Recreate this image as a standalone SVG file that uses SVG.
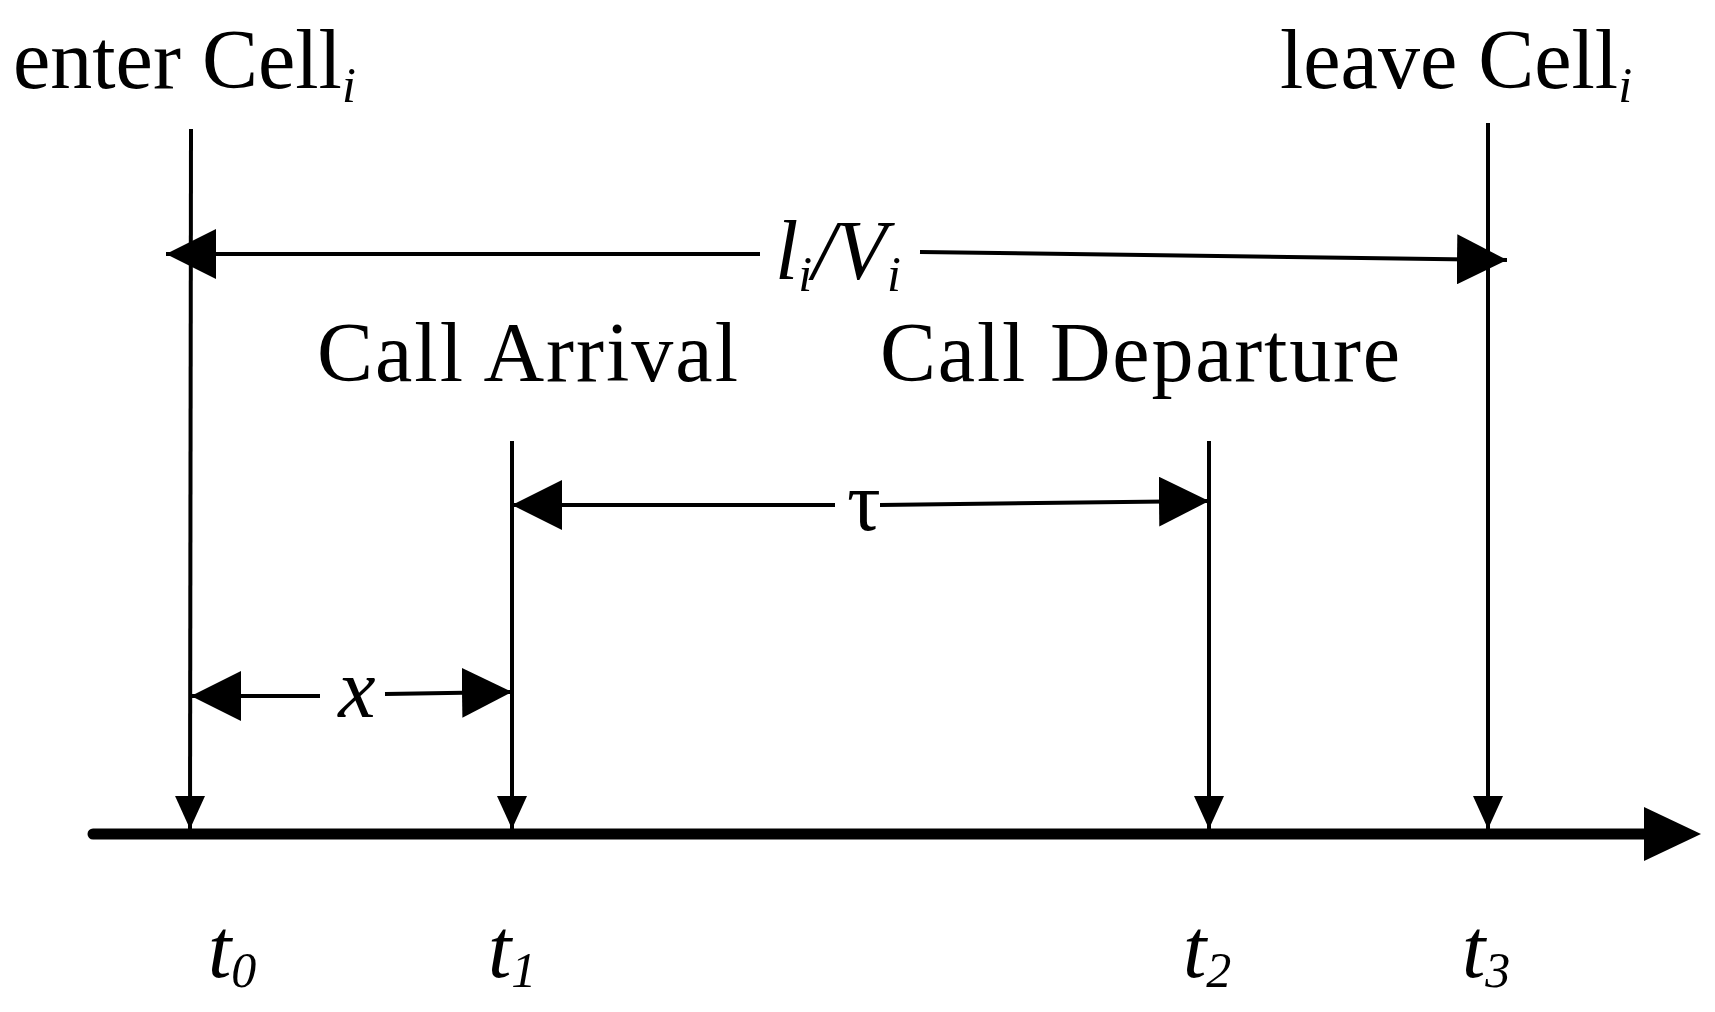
<svg xmlns="http://www.w3.org/2000/svg" width="1715" height="1012" viewBox="0 0 1715 1012">
<style>
text{font-family:"Liberation Serif","Times New Roman",serif;fill:#000}
.lbl{font-size:84px}
.it{font-style:italic}
.ln{stroke:#000;stroke-width:4;fill:none}
</style>
<defs>
<marker id="ah" viewBox="0 0 10 10" refX="10" refY="5" markerWidth="50" markerHeight="50" markerUnits="userSpaceOnUse" orient="auto-start-reverse"><path d="M0,0 L10,5 L0,10 Z" fill="#000"/></marker>
<marker id="av" viewBox="0 0 10 10" refX="10" refY="5" markerWidth="33" markerHeight="30" markerUnits="userSpaceOnUse" orient="auto" preserveAspectRatio="none"><path d="M0,0 L10,5 L0,10 Z" fill="#000"/></marker>
</defs>
<rect width="1715" height="1012" fill="#fff"/>
<g id="connectors">
<line x1="93" y1="834" x2="1644" y2="834" stroke="#000" stroke-width="11" stroke-linecap="round"/>
<path d="M1644,807 L1701,834 L1644,861 Z" fill="#000"/>
<line class="ln" x1="191" y1="129" x2="190" y2="829" marker-end="url(#av)"/>
<line class="ln" x1="512" y1="441" x2="512" y2="829" marker-end="url(#av)"/>
<line class="ln" x1="1209" y1="441" x2="1209" y2="829" marker-end="url(#av)"/>
<line class="ln" x1="1488" y1="123" x2="1488" y2="829" marker-end="url(#av)"/>
<line class="ln" x1="166" y1="254" x2="760" y2="254" marker-start="url(#ah)"/>
<line class="ln" x1="920" y1="252" x2="1507" y2="260" marker-end="url(#ah)"/>
<line class="ln" x1="512" y1="505" x2="835" y2="505" marker-start="url(#ah)"/>
<line class="ln" x1="880" y1="505" x2="1209" y2="501" marker-end="url(#ah)"/>
<line class="ln" x1="191" y1="696" x2="320" y2="696" marker-start="url(#ah)"/>
<line class="ln" x1="385" y1="694" x2="512" y2="692" marker-end="url(#ah)"/>
</g>
<g id="enter"><text class="lbl" x="13" y="88">enter Cell<tspan class="it" font-size="50" dy="14">i</tspan></text></g>
<g id="leave"><text class="lbl" x="1280" y="88">leave Cell<tspan class="it" font-size="50" dy="14">i</tspan></text></g>
<g id="liVi"><text class="lbl it" x="775" y="279">l<tspan font-size="50" dy="12">i</tspan><tspan dy="-12">/V</tspan><tspan font-size="50" dy="12">i</tspan></text></g>
<g id="arrival"><text class="lbl" x="317" y="381" textLength="421">Call Arrival</text></g>
<g id="departure"><text class="lbl" x="880" y="381" textLength="520">Call Departure</text></g>
<g id="tau"><text class="lbl" x="864" y="530" text-anchor="middle">τ</text></g>
<g id="x"><text class="lbl it" x="357" y="717" text-anchor="middle">x</text></g>
<g id="t0"><text class="lbl it" x="208" y="977">t<tspan font-size="50" dy="10">0</tspan></text></g>
<g id="t1"><text class="lbl it" x="488" y="977">t<tspan font-size="50" dy="10">1</tspan></text></g>
<g id="t2"><text class="lbl it" x="1183" y="977">t<tspan font-size="50" dy="10">2</tspan></text></g>
<g id="t3"><text class="lbl it" x="1462" y="977">t<tspan font-size="50" dy="10">3</tspan></text></g>
</svg>
